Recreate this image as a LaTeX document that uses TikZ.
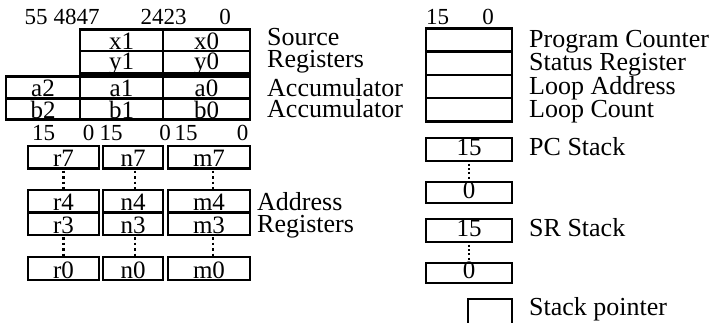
\documentclass[tikz,border=0pt]{standalone}
\usepackage{fontspec}
\setmainfont{Liberation Serif}
\tikzset{
  cell/.style={draw, line width=2.7pt, inner sep=0pt},
  lbl/.style={anchor=base west, inner sep=0pt, font=\fontsize{26}{26}\selectfont},
  num/.style={anchor=base, inner sep=0pt, font=\fontsize{23}{23}\selectfont},
  ctext/.style={anchor=base, inner sep=0pt, font=\fontsize{25}{25}\selectfont},
  vdotsL/.style={line width=2.5pt, dash pattern=on 2.5pt off 3pt},
  vdotsR/.style={line width=2.2pt, dash pattern=on 2pt off 2.4pt},
}
% empty register box
\newcommand\rbox[5]{%
  \pgfmathsetmacro\rcW{#4-#2}\pgfmathsetmacro\rcH{#5-#3}%
  \node[cell, minimum width=\rcW pt, minimum height=\rcH pt] (#1) at ({(#2+#4)/2},{(#3+#5)/2}) {};}
% register box with its text (baseline #7 above the bottom edge)
\newcommand\rcell[7]{%
  \rbox{#1}{#2}{#3}{#4}{#5}%
  \node[ctext] (#1t) at ({(#2+#4)/2},{#5-#7}) {#6};}
\begin{document}
\begin{tikzpicture}[x=1pt,y=-1pt]
\useasboundingbox (0,0) rectangle (722,322);
\clip (0,0) rectangle (722,322);
% top numbers
\node[num] (n55) at (36,24) {55};
\node[num] (n4847) at (76.5,24) {4847};
\node[num] (n2423) at (163.5,24) {2423};
\node[num] (n0a) at (225,24) {0};
% source registers
\rcell{x1}{80}{29.5}{163}{51}{x1}{1.5}
\rcell{x0}{163}{29.5}{250}{51}{x0}{1.5}
\rcell{y1}{80}{51}{163}{73.5}{y1}{4}
\rcell{y0}{163}{51}{250}{73.5}{y0}{4}
% accumulators
\rcell{a2}{6}{76.5}{80}{98.5}{a2}{2}
\rcell{a1}{80}{76.5}{163}{98.5}{a1}{2}
\rcell{a0}{163}{76.5}{250}{98.5}{a0}{2}
\rcell{b2}{6}{98.5}{80}{119.5}{b2}{1.5}
\rcell{b1}{80}{98.5}{163}{119.5}{b1}{1.5}
\rcell{b0}{163}{98.5}{250}{119.5}{b0}{1.5}
\node[lbl] (lsrc) at (267,45) {Source};
\node[lbl] (lreg) at (267,67) {Registers};
\node[lbl] (lacc1) at (267,96) {Accumulator};
\node[lbl] (lacc2) at (267,117) {Accumulator};
% bit numbers of address registers
\node[num] (b15a) at (43.5,140) {15};
\node[num] (b0a) at (88.5,140) {0};
\node[num] (b15b) at (111,140) {15};
\node[num] (b0b) at (165,140) {0};
\node[num] (b15c) at (186,140) {15};
\node[num] (b0c) at (242.5,140) {0};
% address registers
\rcell{r7}{28}{146}{99}{168.3}{r7}{1.5}
\rcell{n7}{103}{146}{163}{168.3}{n7}{1.5}
\rcell{m7}{168}{146}{250}{168.3}{m7}{1.5}
\rcell{r4}{28}{190}{99}{212.3}{r4}{1.5}
\rcell{n4}{103}{190}{163}{212.3}{n4}{1.5}
\rcell{m4}{168}{190}{250}{212.3}{m4}{1.5}
\rcell{r3}{28}{212.8}{99}{235}{r3}{1.5}
\rcell{n3}{103}{212.8}{163}{235}{n3}{1.5}
\rcell{m3}{168}{212.8}{250}{235}{m3}{1.5}
\rcell{r0}{28}{257}{99}{280}{r0}{1.5}
\rcell{n0}{103}{257}{163}{280}{n0}{1.5}
\rcell{m0}{168}{257}{250}{280}{m0}{1.5}
\coordinate (dr1) at (63.5,170.5); \coordinate (dr2) at (63.5,189);
\coordinate (dn1) at (135,170.5); \coordinate (dn2) at (135,189);
\coordinate (dm1) at (213,170.5); \coordinate (dm2) at (213,189);
\coordinate (er1) at (63.5,237); \coordinate (er2) at (63.5,256);
\coordinate (en1) at (135,237); \coordinate (en2) at (135,256);
\coordinate (em1) at (213,237); \coordinate (em2) at (213,256);
\draw[vdotsL] (dr1) -- (dr2); \draw[vdotsL] (dn1) -- (dn2); \draw[vdotsL] (dm1) -- (dm2);
\draw[vdotsL] (er1) -- (er2); \draw[vdotsL] (en1) -- (en2); \draw[vdotsL] (em1) -- (em2);
\node[lbl] (ladr) at (257,210) {Address};
\node[lbl] (lreg2) at (257,232) {Registers};
% right side
\node[num] (r15) at (437.5,24) {15};
\node[num] (r0n) at (488,24) {0};
\rbox{pc}{426}{28.5}{512}{51.7}
\rbox{sr}{426}{51.7}{512}{74.9}
\rbox{la}{426}{74.9}{512}{98.1}
\rbox{lc}{426}{98.1}{512}{121.3}
\node[lbl] (lpc) at (529,47.5) {Program Counter};
\node[lbl] (lsr) at (529,70.5) {Status Register};
\node[lbl] (lla) at (529,94) {Loop Address};
\node[lbl] (llc) at (529,117) {Loop Count};
\rcell{pcs15}{426}{138}{512}{161}{15}{6}
\rcell{pcs0}{426}{182}{512}{203}{0}{4.5}
\rcell{srs15}{426}{219}{512}{242}{15}{5.3}
\rcell{srs0}{426}{263}{512}{283}{0}{5}
\coordinate (pd1) at (469,163.5); \coordinate (pd2) at (469,180);
\coordinate (sd1) at (469,244.5); \coordinate (sd2) at (469,261);
\draw[vdotsR] (pd1) -- (pd2);
\draw[vdotsR] (sd1) -- (sd2);
\node[lbl] (lpcs) at (529,155) {PC Stack};
\node[lbl] (lsrs) at (529,236.7) {SR Stack};
\rbox{sp}{468}{299}{512}{340}
\node[lbl] (lsp) at (529,315) {Stack pointer};
\end{tikzpicture}
\end{document}
